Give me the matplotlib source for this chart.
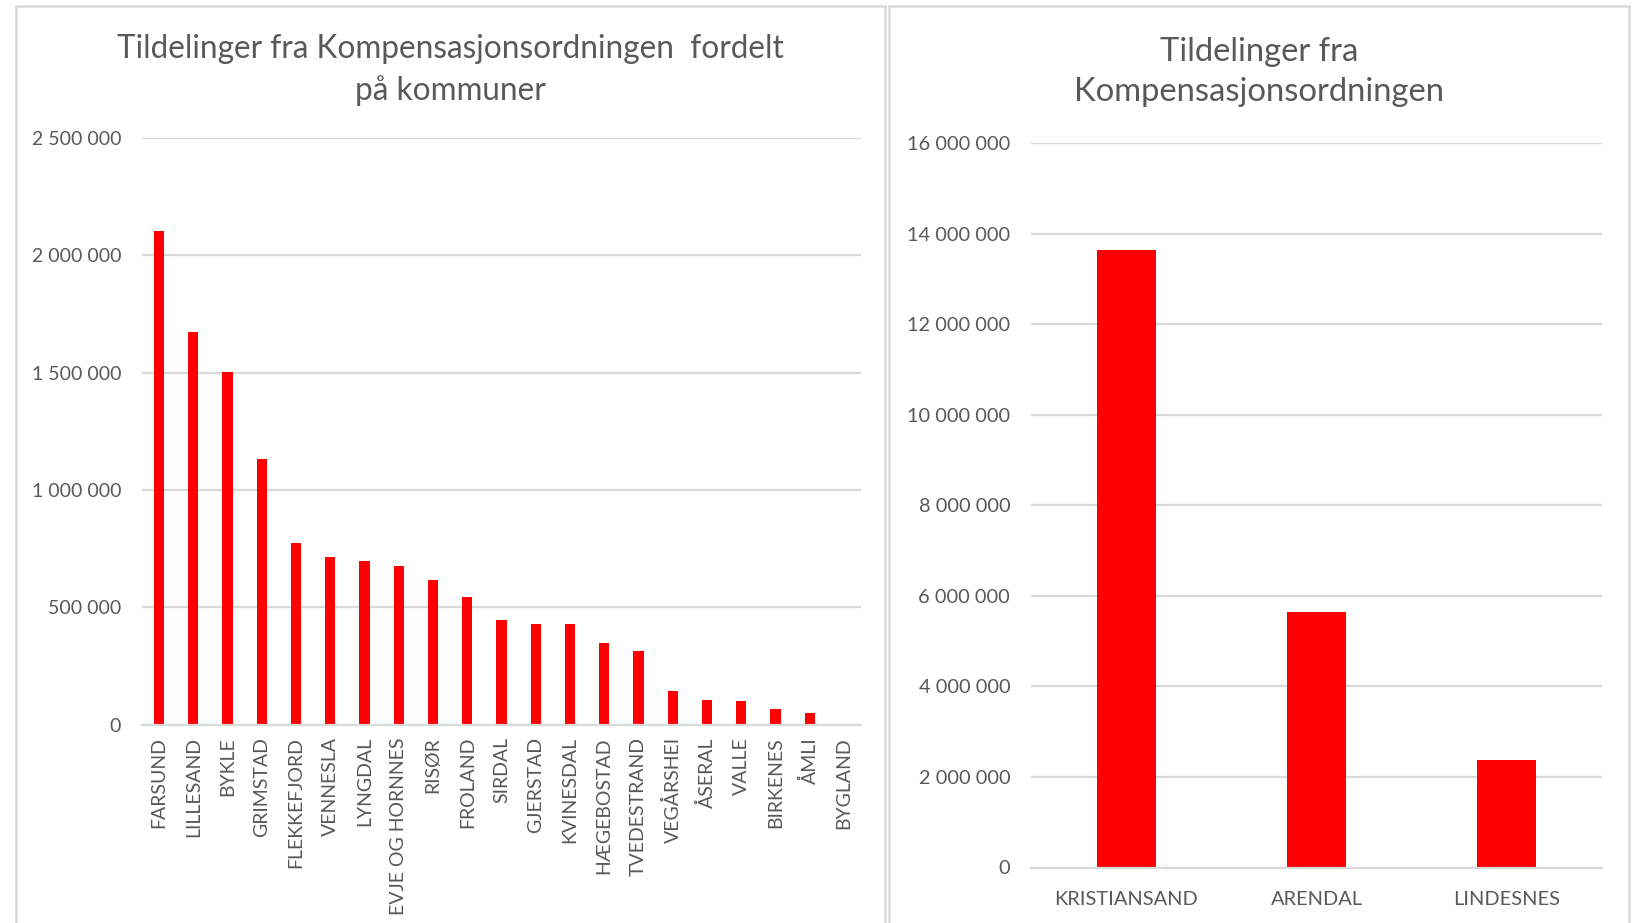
import matplotlib
matplotlib.use("Agg")
import matplotlib.pyplot as plt
from matplotlib.patches import Rectangle
from matplotlib.ticker import FuncFormatter

# Data
kommuner = ["FARSUND", "LILLESAND", "BYKLE", "GRIMSTAD", "FLEKKEFJORD", "VENNESLA",
            "LYNGDAL", "EVJE OG HORNNES", "RISØR", "FROLAND", "SIRDAL", "GJERSTAD",
            "KVINESDAL", "HÆGEBOSTAD", "TVEDESTRAND", "VEGÅRSHEI", "ÅSERAL", "VALLE",
            "BIRKENES", "ÅMLI", "BYGLAND"]
tildeling = [2103000, 1674000, 1502000, 1131000, 772000, 712000,
             696000, 676000, 615000, 544000, 445000, 429000,
             429000, 348000, 312000, 142000, 105000, 99000,
             65000, 50000, 0]

store_kommuner = ["KRISTIANSAND", "ARENDAL", "LINDESNES"]
store_tildeling = [13645000, 5650000, 2366000]

RED = "#FF0000"
TXT = "#595959"
GRID = "#D9D9D9"

plt.rcParams["font.family"] = ["Lato", "DejaVu Sans"]

W, H = 1637, 923
fig = plt.figure(figsize=(W / 100, H / 100), dpi=100)
fig.patch.set_facecolor("white")


def fx(px):
    return px / W


def fy(py):
    return 1 - py / H


# panel frames
for x0, x1 in [(15.5, 885), (889, 1629)]:
    fig.patches.append(Rectangle((fx(x0), fy(960)), fx(x1 - x0), (960 - 6) / H,
                                 transform=fig.transFigure, fill=False,
                                 edgecolor=GRID, lw=1.8))


def fmt(v, pos):
    return f"{v:,.0f}".replace(",", " ")


def style(ax, step, top, pady, padx, size):
    ax.set_ylim(0, top)
    ax.set_yticks(range(0, top + 1, step))
    ax.yaxis.set_major_formatter(FuncFormatter(fmt))
    ax.grid(axis="y", color=GRID, lw=1.6)
    ax.set_axisbelow(True)
    for s in ["top", "right", "left"]:
        ax.spines[s].set_visible(False)
    ax.spines["bottom"].set_color(GRID)
    ax.spines["bottom"].set_linewidth(1.6)
    ax.tick_params(axis="y", length=0, pad=padx, colors=TXT, labelsize=size)
    ax.tick_params(axis="x", length=0, pad=pady, colors=TXT, labelsize=size)


# left chart
ax1 = fig.add_axes([fx(142), fy(724.6), fx(861 - 142), (724.6 - 137.8) / H])
ax1.bar(range(len(kommuner)), tildeling, width=0.3, color=RED)
ax1.set_xlim(-0.5, len(kommuner) - 0.5)
ax1.set_xticks(range(len(kommuner)))
ax1.set_xticklabels(kommuner, rotation=90)
style(ax1, 500000, 2500000, 9, 15, 14)
fig.text(fx(450), fy(70), "Tildelinger fra Kompensasjonsordningen  fordelt\npå kommuner",
         ha="center", va="center", fontsize=22.7, color=TXT, linespacing=1.47)

# right chart
ax2 = fig.add_axes([fx(1031), fy(867.5), fx(1602 - 1031), (867.5 - 143) / H])
ax2.bar(range(len(store_kommuner)), store_tildeling, width=0.31, color=RED)
ax2.set_xlim(-0.5, len(store_kommuner) - 0.5)
ax2.set_xticks(range(len(store_kommuner)))
ax2.set_xticklabels(store_kommuner)
style(ax2, 2000000, 16000000, 17, 15, 14.4)
fig.text(fx(1259), fy(72), "Tildelinger fra\nKompensasjonsordningen",
         ha="center", va="center", fontsize=23.6, color=TXT, linespacing=1.45)

fig.savefig("out.png", dpi=100, facecolor="white")
